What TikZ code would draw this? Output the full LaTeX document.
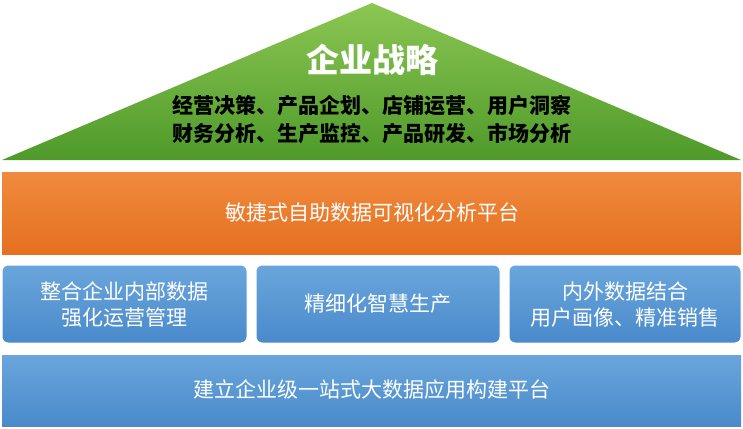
\documentclass[tikz,border=0pt]{standalone}
\usepackage{fontspec}
\setmainfont{Noto Sans CJK SC}
\begin{document}
\begin{tikzpicture}[x=1pt,y=-1pt,
  box/.style={rounded corners=6pt,draw=white,line width=1pt,inner sep=0pt},
  bluebox/.style={box,top color=blueT,bottom color=blueB},
  wt/.style={text=white,font=\fontsize{21}{26}\selectfont,align=center}]
\definecolor{blueT}{HTML}{6AA6DC}
\definecolor{blueB}{HTML}{4A8ACB}
\definecolor{grT}{HTML}{8CC653}
\definecolor{grB}{HTML}{4E9A2A}
\definecolor{orT}{HTML}{F08A3E}
\definecolor{orB}{HTML}{E5701F}
\useasboundingbox (0,0) rectangle (743,428);
\shade[top color=grT,bottom color=grB] (372,3) -- (741,160) -- (2,160) -- cycle;
\node[text=white,font=\bfseries\fontsize{33}{36}\selectfont] (title) at (372,60) {企业战略};
\node[font=\bfseries\fontsize{21}{28}\selectfont,align=center] (items) at (372,120) {经营决策、产品企划、店铺运营、用户洞察\\财务分析、生产监控、产品研发、市场分析};
\fill[top color=orT,bottom color=orB] (2,172) rectangle (741,254);
\node[wt] (plat) at (372,213) {敏捷式自助数据可视化分析平台};
\draw[bluebox] (2,265) rectangle (247,343);
\draw[bluebox] (256,265) rectangle (500,343);
\draw[bluebox] (509,265) rectangle (741,343);
\node[wt] (b1) at (124,305) {整合企业内部数据\\强化运营管理};
\node[wt] (b2) at (378,304) {精细化智慧生产};
\node[wt] (b3) at (625,305) {内外数据结合\\用户画像、精准销售};
\fill[top color=blueT,bottom color=blueB] (2,355) rectangle (741,426);
\node[wt] (base) at (372,389) {建立企业级一站式大数据应用构建平台};
\end{tikzpicture}
\end{document}
